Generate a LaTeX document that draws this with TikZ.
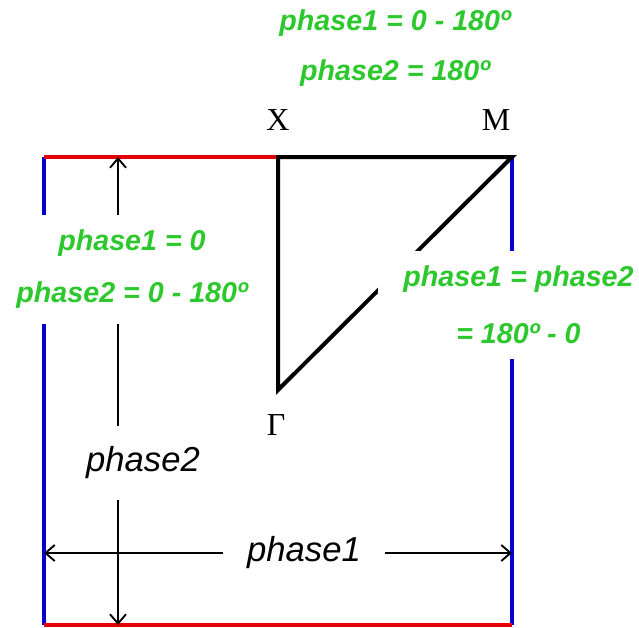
\documentclass[tikz,border=0pt]{standalone}
\usepackage{fontspec}
\setmainfont{Liberation Serif}
\newfontfamily\arialfont{Liberation Sans}
\usetikzlibrary{arrows.meta}
\definecolor{phgreen}{RGB}{45,200,45}
\definecolor{edgered}{RGB}{228,0,0}
\definecolor{edgeblue}{RGB}{0,0,210}

\begin{document}
\begin{tikzpicture}[
  x=0.75pt, y=-0.75pt,
  edge/.style={line width=3pt},
  dim/.style={{Straight Barb[length=7pt,width=12pt,line width=1.4pt]}-{Straight Barb[length=7pt,width=12pt,line width=1.4pt]}, line width=1.5pt},
  cond/.style={text=phgreen, align=center, inner sep=0pt, fill=white,
               font=\arialfont\bfseries\itshape\fontsize{21.5}{39}\selectfont},
  axis/.style={inner sep=0pt, fill=white, font=\arialfont\itshape\fontsize{26}{30}\selectfont},
  point/.style={inner sep=0pt, font=\fontsize{24}{28}\selectfont}
]
\useasboundingbox (0,0) rectangle (639,628);

% corners of the zone and of the triangle
\coordinate (tl) at (44,157);
\coordinate (bl) at (44,625);
\coordinate (br) at (512,625);
\coordinate (X) at (278,157);
\coordinate (M) at (512,157);
\coordinate (G) at (278,390);

\draw[edge, edgeblue] (tl) -- (bl);
\draw[edge, edgeblue] (M) -- (br);
\draw[edge, edgered] (tl) -- (X);
\draw[edge, edgered] (bl) -- (br);
\draw[edge, line join=miter] (X) -- (M) -- (G) -- cycle;

% arrows along the zone
\coordinate (d2a) at (118,157);
\coordinate (d2b) at (118,625);
\coordinate (d1a) at (44,553);
\coordinate (d1b) at (512,553);
\draw[dim] (d2a) -- (d2b);
\draw[dim] (d1a) -- (d1b);

\node[axis, minimum height=55.5pt] (ph2) at (143,463) {phase2};
\node[axis, minimum width=121.5pt] (ph1) at (304,553) {phase1};

\node[point] (lX) at (278,120) {X};
\node[point] (lM) at (496,120) {M};
\node[point] (lG) at (276,425) {Γ};

\node[cond, fill=none, font=\arialfont\bfseries\itshape\fontsize{21.5}{37.5}\selectfont]
  (ctop) at (395,48) {phase1 = 0 - 180º\\phase2 = 180º};
\node[cond, minimum height=81.75pt] (cleft) at (132,269)
  {phase1 = 0\\phase2 = 0 - 180º};
\node[cond, minimum height=81pt, minimum width=210.75pt,
      font=\arialfont\bfseries\itshape\fontsize{21.5}{42.75}\selectfont]
  (cright) at (518.5,305) {phase1 = phase2\\= 180º - 0};
\end{tikzpicture}
\end{document}
